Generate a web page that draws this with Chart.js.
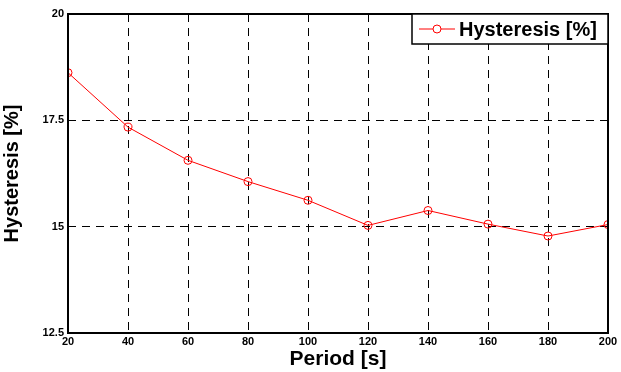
<!DOCTYPE html>
<html>
<head>
<meta charset="utf-8">
<script src="https://cdn.jsdelivr.net/npm/chart.js@4/dist/chart.umd.min.js"></script>
<style>
  html, body { margin: 0; padding: 0; background: #fff; }
  #wrap { width: 621px; height: 372px; }
</style>
</head>
<body>
<div id="wrap"><canvas id="chart" width="621" height="372"></canvas></div>
<script>
// data
const periods = [20, 40, 60, 80, 100, 120, 140, 160, 180, 200];
const hysteresis = [18.62, 17.34, 16.56, 16.06, 15.62, 15.03, 15.38, 15.06, 14.78, 15.05];
const yTicks = [12.5, 15, 17.5, 20];
const seriesName = 'Hysteresis [%]';

// frame round the plot + legend box in the top right corner
const framePlugin = {
  id: 'frame',
  afterDraw(chart) {
    const { ctx, chartArea: a } = chart;
    ctx.save();
    ctx.strokeStyle = '#000';
    ctx.lineWidth = 2;
    ctx.strokeRect(a.left, a.top, a.right - a.left, a.bottom - a.top);

    // legend
    const bx = 412, by = a.top, bw = a.right - 412, bh = 30;
    ctx.fillStyle = '#fff';
    ctx.fillRect(bx, by, bw, bh);
    ctx.lineWidth = 1.5;
    ctx.strokeRect(bx, by, bw, bh);
    const ly = by + bh / 2;
    ctx.strokeStyle = '#ff0000';
    ctx.lineWidth = 1;
    ctx.beginPath();
    ctx.moveTo(419, ly);
    ctx.lineTo(455, ly);
    ctx.stroke();
    ctx.fillStyle = '#fff';
    ctx.beginPath();
    ctx.arc(437, ly, 4, 0, Math.PI * 2);
    ctx.fill();
    ctx.stroke();
    ctx.fillStyle = '#000';
    ctx.font = 'bold 20px "Liberation Sans", Arial, sans-serif';
    ctx.textBaseline = 'middle';
    ctx.textAlign = 'left';
    ctx.fillText(seriesName, 459, ly + 1);
    ctx.restore();
  }
};

const tickFont = { family: '"Liberation Sans", Arial, sans-serif', size: 11, weight: 'bold' };
const titleFont = { family: '"Liberation Sans", Arial, sans-serif', size: 20, weight: 'bold' };

new Chart(document.getElementById('chart').getContext('2d'), {
  type: 'line',
  data: {
    datasets: [{
      label: seriesName,
      data: periods.map((p, i) => ({ x: p, y: hysteresis[i] })),
      borderColor: '#ff0000',
      borderWidth: 1,
      backgroundColor: 'rgba(0,0,0,0)',
      pointRadius: 4,
      pointBorderWidth: 1,
      pointBorderColor: '#ff0000',
      pointBackgroundColor: 'rgba(0,0,0,0)',
      tension: 0
    }]
  },
  options: {
    responsive: false,
    animation: false,
    layout: { padding: { top: 14, right: 13, left: 0, bottom: 0 } },
    plugins: { legend: { display: false }, tooltip: { enabled: false } },
    scales: {
      x: {
        type: 'linear',
        min: 20,
        max: 200,
        ticks: { stepSize: 20, color: '#000', font: tickFont, padding: 2, maxRotation: 0 },
        grid: { color: '#000', lineWidth: 1, drawTicks: false },
        border: { display: false, dash: [8, 6] },
        title: { display: true, text: 'Period [s]', color: '#000', font: { ...titleFont, size: 21 }, padding: { top: 2, bottom: 0 } },
        afterFit(scale) { scale.height = 39; }
      },
      y: {
        min: 12.5,
        max: 20,
        afterBuildTicks(scale) { scale.ticks = yTicks.map(v => ({ value: v })); },
        ticks: { color: '#000', font: tickFont, padding: 4 },
        grid: { color: '#000', lineWidth: 1, drawTicks: false },
        border: { display: false, dash: [8, 6] },
        title: { display: true, text: seriesName, color: '#000', font: titleFont, padding: { top: 0, bottom: 6 } },
        afterFit(scale) { scale.width = 68; }
      }
    }
  },
  plugins: [framePlugin]
});
</script>
</body>
</html>
